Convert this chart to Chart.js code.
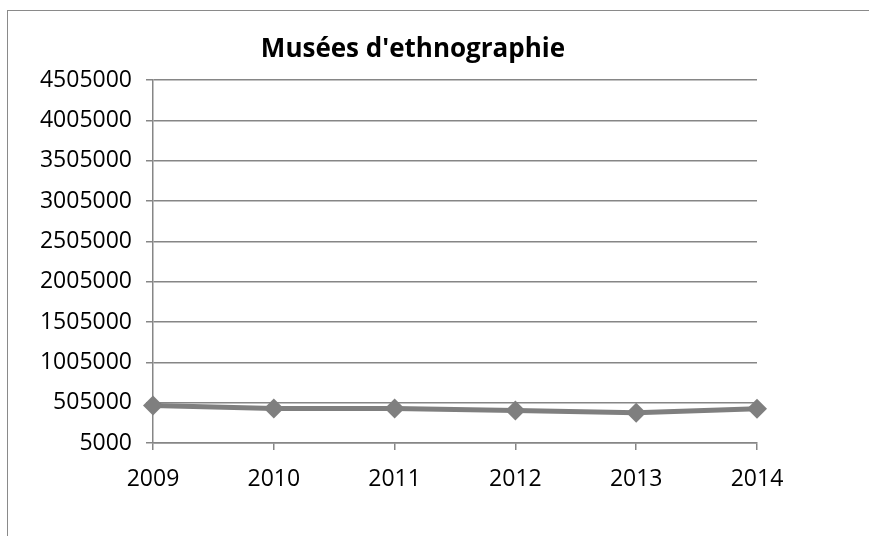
<!DOCTYPE html>
<html>
<head>
<meta charset="utf-8">
<script src="https://cdn.jsdelivr.net/npm/chart.js@4/dist/chart.umd.min.js"></script>
<style>
  html, body { margin: 0; padding: 0; background: #fff; overflow: hidden; }
  #wrap { position: relative; width: 869px; height: 536px; }
  #frame { position: absolute; left: 7px; top: 10px; width: 900px; height: 600px; border: 1px solid #8a8a8a; }
  canvas { position: absolute; left: 0; top: 0; }
</style>
</head>
<body>
<div id="wrap">
  <div id="frame"></div>
  <canvas id="myChart" width="869" height="536"></canvas>
</div>
<script>
const chartTitle = "Musées d'ethnographie";
const years = ["2009", "2010", "2011", "2012", "2013", "2014"];
const visitors = [471000, 434000, 434000, 409000, 380000, 430000];
const yTicks = [5000, 505000, 1005000, 1505000, 2005000, 2505000, 3005000, 3505000, 4005000, 4505000];

const fontFamily = "'Open Sans', 'Liberation Sans', sans-serif";
const axisGray = "#868686";

// titre dessiné à la main pour le placer comme dans l'original
const titlePlugin = {
    id: 'titreManuel',
    afterDraw(chart) {
        const ctx = chart.ctx;
        ctx.save();
        ctx.font = "bold 26px " + fontFamily;
        ctx.fillStyle = "#000";
        ctx.textAlign = "center";
        ctx.textBaseline = "middle";
        ctx.fillText(chartTitle, 413, 50);
        ctx.restore();
    }
};

let ctx = document.getElementById("myChart").getContext('2d');
window.myChart = new Chart(ctx, {
    type: 'line',
    data: {
        labels: years,
        datasets: [{
            data: visitors,
            borderColor: "#7f7f7f",
            backgroundColor: "#7f7f7f",
            borderWidth: 5,
            pointStyle: 'rectRot',
            pointRadius: 10,
            pointHoverRadius: 10,
            pointBorderWidth: 0,
            tension: 0
        }]
    },
    options: {
        responsive: false,
        animation: { duration: 0 },
        layout: { padding: { top: 80, right: 112, bottom: 0, left: 0 } },
        plugins: {
            legend: { display: false },
            title: { display: false },
            tooltip: { enabled: false }
        },
        scales: {
            x: {
                offset: false,
                afterFit: scale => { scale.height = 93; },
                grid: { drawOnChartArea: false, drawTicks: true, tickLength: 7, color: axisGray, lineWidth: 1.5 },
                border: { color: axisGray, width: 1.5 },
                ticks: { color: "#000", font: { family: fontFamily, size: 23 }, padding: 16, maxRotation: 0 }
            },
            y: {
                min: 5000,
                max: 4505000,
                afterFit: scale => { scale.width = 153; },
                afterBuildTicks: scale => { scale.ticks = yTicks.map(v => ({ value: v })); },
                grid: { color: axisGray, lineWidth: 1.5, tickLength: 7 },
                border: { color: axisGray, width: 1.5 },
                ticks: {
                    color: "#000",
                    font: { family: fontFamily, size: 23 },
                    padding: 14,
                    callback: value => String(value)
                }
            }
        }
    },
    plugins: [titlePlugin]
});
</script>
</body>
</html>
